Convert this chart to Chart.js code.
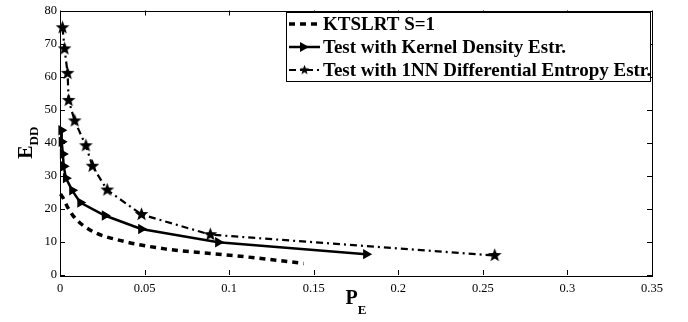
<!DOCTYPE html>
<html>
<head>
<meta charset="utf-8">
<script src="https://cdn.jsdelivr.net/npm/chart.js@4.4.1/dist/chart.umd.min.js"></script>
<style>
html,body{margin:0;padding:0;background:#fff;}
#wrap{position:relative;width:688px;height:322px;}
</style>
</head>
<body>
<div id="wrap"><canvas id="c" width="688" height="322"></canvas></div>
<script>
// ---- data ----
const seriesLabels = ["KTSLRT S=1", "Test with Kernel Density Estr.", "Test with 1NN Differential Entropy Estr."];
const ktsX = [0.0003, 0.0017, 0.0046, 0.0086, 0.0185, 0.036, 0.062, 0.085, 0.104, 0.124, 0.144];
const ktsY = [24.5, 23.4, 20.4, 17.4, 13.4, 10.4, 7.9, 6.7, 5.8, 4.7, 3.5];
const kdeX = [0.0008, 0.0010, 0.0017, 0.0022, 0.0035, 0.0072, 0.012, 0.0265, 0.048, 0.0935, 0.181];
const kdeY = [43.8, 40.3, 36.6, 32.9, 29.3, 25.6, 21.9, 18.0, 13.9, 9.9, 6.3];
const nnX = [0.0015, 0.0027, 0.0045, 0.0051, 0.0087, 0.0153, 0.0192, 0.0279, 0.0482, 0.0889, 0.257];
const nnY = [74.8, 68.4, 61.0, 52.8, 46.6, 39.1, 32.9, 25.7, 18.3, 12.2, 5.9];
const xTickLabels = ["0", "0.05", "0.1", "0.15", "0.2", "0.25", "0.3", "0.35"];
const yTickLabels = ["0", "10", "20", "30", "40", "50", "60", "70", "80"];
const xTitle = ["P", "E"];
const yTitle = ["E", "DD"];

const toPts = (xs, ys) => xs.map((x, i) => ({x: x, y: ys[i]}));

function makeStar(size) {
  const cv = document.createElement('canvas');
  cv.width = size; cv.height = size;
  const g = cv.getContext('2d');
  const c = size / 2, R = size / 2 - 0.3, r = R * 0.42;
  g.beginPath();
  for (let i = 0; i < 10; i++) {
    const a = -Math.PI / 2 + i * Math.PI / 5;
    const rr = i % 2 === 0 ? R : r;
    g.lineTo(c + rr * Math.cos(a), c + rr * Math.sin(a));
  }
  g.closePath();
  g.fillStyle = '#000';
  g.fill();
  return cv;
}
const star = makeStar(15);
const starSmall = makeStar(11);

const SERIF = "'Liberation Serif','Times New Roman',serif";

const boxPlugin = {
  id: 'boxPlugin',
  afterDraw(chart) {
    const ctx = chart.ctx;
    const a = chart.chartArea;
    const xs = chart.scales.x, ys = chart.scales.y;
    ctx.save();
    ctx.strokeStyle = '#000';
    ctx.lineWidth = 1;
    ctx.setLineDash([]);
    ctx.strokeRect(Math.round(a.left) + 0.5, Math.round(a.top) + 0.5, Math.round(a.right - a.left), Math.round(a.bottom - a.top));
    const L = 5;
    ctx.beginPath();
    xs.ticks.forEach(t => {
      const px = Math.round(xs.getPixelForValue(t.value)) + 0.5;
      ctx.moveTo(px, a.bottom); ctx.lineTo(px, a.bottom - L);
      ctx.moveTo(px, a.top); ctx.lineTo(px, a.top + L);
    });
    ys.ticks.forEach(t => {
      const py = Math.round(ys.getPixelForValue(t.value)) + 0.5;
      ctx.moveTo(a.left, py); ctx.lineTo(a.left + L, py);
      ctx.moveTo(a.right, py); ctx.lineTo(a.right - L, py);
    });
    ctx.stroke();

    ctx.fillStyle = '#000';
    ctx.textBaseline = 'alphabetic';
    ctx.textAlign = 'left';
    const big = "bold 20px " + SERIF, small = "bold 13px " + SERIF;
    ctx.font = big; const wP = ctx.measureText(xTitle[0]).width;
    ctx.font = small; const wE = ctx.measureText(xTitle[1]).width;
    const cx = (a.left + a.right) / 2;
    let sx = cx - (wP + wE) / 2;
    ctx.font = big; ctx.fillText(xTitle[0], sx, 304);
    ctx.font = small; ctx.fillText(xTitle[1], sx + wP, 314);
    ctx.font = big; const wE2 = ctx.measureText(yTitle[0]).width;
    ctx.font = small; const wDD = ctx.measureText(yTitle[1]).width;
    const cy = (a.top + a.bottom) / 2;
    ctx.save();
    ctx.translate(32, cy + (wE2 + wDD) / 2);
    ctx.rotate(-Math.PI / 2);
    ctx.font = big; ctx.fillText(yTitle[0], 0, 0);
    ctx.font = small; ctx.fillText(yTitle[1], wE2, 6);
    ctx.restore();

    const lx = 286, ly = 12, lw = 364, lh = 69;
    ctx.fillStyle = '#fff';
    ctx.fillRect(lx, ly, lw, lh);
    ctx.strokeStyle = '#000';
    ctx.lineWidth = 1;
    ctx.strokeRect(lx + 0.5, ly + 0.5, lw, lh);
    const rows = [24, 47, 70];
    const ds = chart.data.datasets;
    for (let i = 0; i < 3; i++) {
      const y = rows[i];
      const d = ds[i];
      ctx.strokeStyle = '#000';
      ctx.lineWidth = d.borderWidth;
      ctx.setLineDash(d.borderDash || []);
      ctx.beginPath();
      ctx.moveTo(289, y); ctx.lineTo(320, y);
      ctx.stroke();
      ctx.setLineDash([]);
      if (i === 1) {
        ctx.fillStyle = '#000';
        ctx.beginPath();
        ctx.moveTo(309, y); ctx.lineTo(300, y - 5); ctx.lineTo(300, y + 5); ctx.closePath();
        ctx.fill();
      } else if (i === 2) {
        ctx.drawImage(starSmall, 304.5 - 5.5, y - 5.5);
      }
      ctx.fillStyle = '#000';
      ctx.font = "bold 19px " + SERIF;
      ctx.textBaseline = 'middle';
      ctx.fillText(d.label, 323, y + 1);
    }
    ctx.restore();
  }
};

new Chart(document.getElementById('c'), {
  type: 'scatter',
  data: {
    datasets: [
      {
        label: seriesLabels[0],
        data: toPts(ktsX, ktsY),
        showLine: true,
        borderColor: '#000',
        borderWidth: 3.5,
        borderDash: [6, 5],
        pointRadius: 0,
        cubicInterpolationMode: 'monotone',
        clip: false
      },
      {
        label: seriesLabels[1],
        data: toPts(kdeX, kdeY),
        showLine: true,
        borderColor: '#000',
        backgroundColor: '#000',
        borderWidth: 2.5,
        pointStyle: 'triangle',
        rotation: 90,
        pointRadius: 6,
        pointBorderWidth: 0,
        clip: false
      },
      {
        label: seriesLabels[2],
        data: toPts(nnX, nnY),
        showLine: true,
        borderColor: '#000',
        backgroundColor: '#000',
        borderWidth: 2.2,
        borderDash: [7, 4, 2, 4],
        pointStyle: star,
        pointRadius: 7,
        clip: false
      }
    ]
  },
  options: {
    responsive: false,
    animation: false,
    events: [],
    layout: { padding: { left: 0, top: 7, right: 36, bottom: 0 } },
    plugins: { legend: { display: false }, tooltip: { enabled: false } },
    scales: {
      x: {
        type: 'linear', min: 0, max: 0.35,
        afterBuildTicks(s) { s.ticks = xTickLabels.map(v => ({value: parseFloat(v)})); },
        afterFit(s) { s.height = 47; },
        grid: { display: false, drawTicks: false },
        border: { display: false },
        ticks: {
          padding: 6, color: '#000', maxRotation: 0, autoSkip: false,
          font: { family: SERIF, size: 12.5 },
          callback: (v, i) => xTickLabels[i]
        }
      },
      y: {
        type: 'linear', min: 0, max: 80,
        afterBuildTicks(s) { s.ticks = yTickLabels.map(v => ({value: parseFloat(v)})); },
        afterFit(s) { s.width = 60; },
        grid: { display: false, drawTicks: false },
        border: { display: false },
        ticks: {
          padding: 3, color: '#000', autoSkip: false,
          font: { family: SERIF, size: 12.5 },
          callback: (v, i) => yTickLabels[i]
        }
      }
    }
  },
  plugins: [boxPlugin]
});
</script>
</body>
</html>
